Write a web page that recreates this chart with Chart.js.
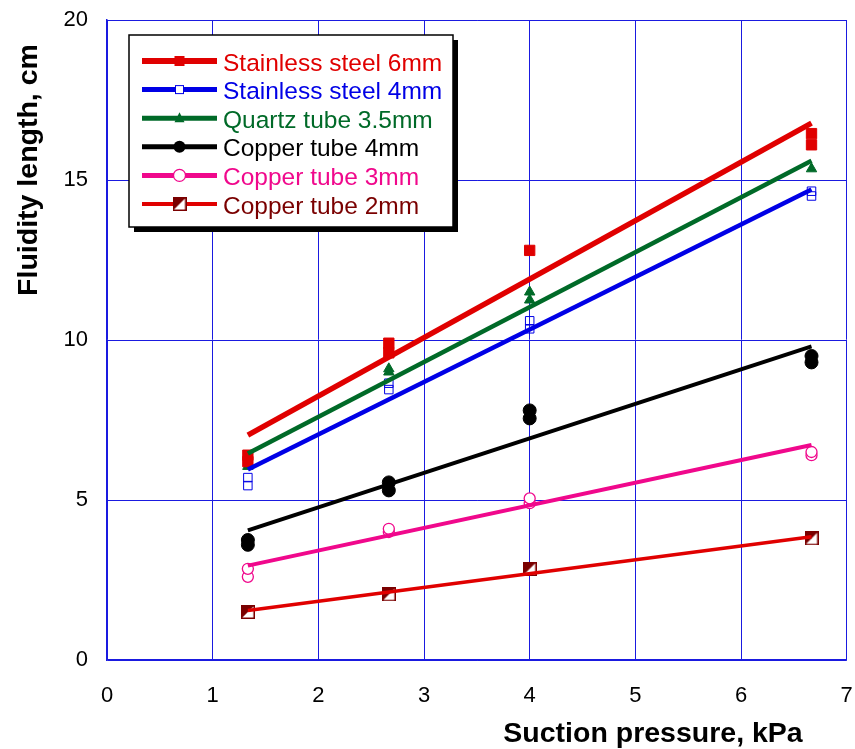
<!DOCTYPE html>
<html>
<head>
<meta charset="utf-8">
<script src="https://cdn.jsdelivr.net/npm/chart.js@4/dist/chart.umd.min.js"></script>
<style>
  html, body { margin: 0; padding: 0; background: #fff; }
  #wrap { width: 855px; height: 749px; position: relative; }
</style>
</head>
<body>
<div id="wrap"><canvas id="fluidityChart" width="855" height="749"></canvas></div>
<script>
// measured points (suction pressure, kPa -> fluidity length, cm)
const ss6X = [1.333, 1.333, 2.667, 2.667, 4.0, 6.667, 6.667];
const ss6Y = [6.2, 6.4, 9.6, 9.9, 12.8, 16.1, 16.45];
const ss4X = [1.333, 1.333, 2.667, 2.667, 4.0, 4.0, 6.667, 6.667];
const ss4Y = [5.45, 5.7, 8.45, 8.65, 10.35, 10.6, 14.5, 14.65];
const quartzX = [1.333, 2.667, 2.667, 4.0, 4.0, 6.667];
const quartzY = [6.05, 9.0, 9.1, 11.25, 11.5, 15.35];
const cu4X = [1.333, 1.333, 2.667, 2.667, 4.0, 4.0, 6.667, 6.667];
const cu4Y = [3.6, 3.75, 5.3, 5.55, 7.55, 7.8, 9.3, 9.5];
const cu3X = [1.333, 1.333, 2.667, 2.667, 4.0, 4.0, 6.667, 6.667];
const cu3Y = [2.6, 2.85, 4.0, 4.1, 4.9, 5.05, 6.4, 6.5];
const cu2X = [1.333, 2.667, 4.0, 6.667];
const cu2Y = [1.5, 2.05, 2.85, 3.8];

// fitted trend lines, end points
const fitX = [1.333, 6.667];
const ss6Fit = [7.03, 16.78];
const ss4Fit = [5.95, 14.7];
const quartzFit = [6.45, 15.6];
const cu4Fit = [4.05, 9.8];
const cu3Fit = [2.95, 6.72];
const cu2Fit = [1.55, 3.85];

const seriesNames = ['Stainless steel 6mm', 'Stainless steel 4mm', 'Quartz tube 3.5mm',
                     'Copper tube 4mm', 'Copper tube 3mm', 'Copper tube 2mm'];
const xTicks = [0, 1, 2, 3, 4, 5, 6, 7];
const yTicks = [0, 5, 10, 15, 20];

const RED = '#e00000', BLUE = '#0000e6', GREEN = '#006a28', BLACK = '#000000',
      PINK = '#f0088c', DARKRED = '#7a0000';
const FONT = '"Liberation Sans", Arial, sans-serif';

// half filled square marker for copper tube 2mm
function halfSquare(size) {
    const c = document.createElement('canvas');
    c.width = size; c.height = size;
    const g = c.getContext('2d');
    g.fillStyle = '#fff';
    g.fillRect(0, 0, size, size);
    g.fillStyle = DARKRED;
    g.beginPath();
    g.moveTo(0, 0); g.lineTo(size, 0); g.lineTo(0, size); g.closePath();
    g.fill();
    g.strokeStyle = DARKRED;
    g.lineWidth = 1.5;
    g.strokeRect(0.75, 0.75, size - 1.5, size - 1.5);
    return c;
}
const cu2Marker = halfSquare(14);

const pts = (xs, ys) => xs.map((x, i) => ({ x: x, y: ys[i] }));

function fitSet(ys, color, width) {
    return {
        data: pts(fitX, ys), showLine: true, borderColor: color, borderWidth: width,
        pointRadius: 0, borderCapStyle: 'butt'
    };
}
function markSet(xs, ys, style, radius, border, fill, bw) {
    return {
        data: pts(xs, ys), showLine: false, pointStyle: style, pointRadius: radius,
        borderColor: border, backgroundColor: fill, pointBorderWidth: bw
    };
}

const legendItems = [
    { name: seriesNames[0], line: RED, lw: 6, text: RED, mark: 'rect' },
    { name: seriesNames[1], line: BLUE, lw: 5, text: BLUE, mark: 'rectOpen' },
    { name: seriesNames[2], line: GREEN, lw: 5, text: GREEN, mark: 'tri' },
    { name: seriesNames[3], line: BLACK, lw: 5, text: BLACK, mark: 'dot' },
    { name: seriesNames[4], line: PINK, lw: 5, text: PINK, mark: 'ring' },
    { name: seriesNames[5], line: RED, lw: 4, text: DARKRED, mark: 'half' }
];

const boxLegend = {
    id: 'boxLegend',
    afterDraw(chart) {
        const ctx = chart.ctx;
        const bx = 129, by = 35, bw = 324, bh = 192;
        ctx.save();
        ctx.fillStyle = '#000';
        ctx.fillRect(bx + 5, by + 5, bw, bh);
        ctx.fillStyle = '#fff';
        ctx.fillRect(bx, by, bw, bh);
        ctx.strokeStyle = '#000';
        ctx.lineWidth = 1.5;
        ctx.strokeRect(bx, by, bw, bh);
        ctx.font = '24.5px ' + FONT;
        ctx.textBaseline = 'alphabetic';
        legendItems.forEach((it, i) => {
            const y = 61 + i * 28.6;
            ctx.strokeStyle = it.line;
            ctx.lineWidth = it.lw;
            ctx.beginPath();
            ctx.moveTo(142, y); ctx.lineTo(217, y);
            ctx.stroke();
            const mx = 179.5;
            if (it.mark === 'rect') {
                ctx.fillStyle = RED; ctx.fillRect(mx - 5, y - 5, 10, 10);
            } else if (it.mark === 'rectOpen') {
                ctx.fillStyle = '#fff'; ctx.fillRect(mx - 4, y - 4, 8, 8);
                ctx.strokeStyle = BLUE; ctx.lineWidth = 1; ctx.strokeRect(mx - 4, y - 4, 8, 8);
            } else if (it.mark === 'tri') {
                ctx.fillStyle = GREEN; ctx.beginPath();
                ctx.moveTo(mx, y - 6); ctx.lineTo(mx + 5, y + 4); ctx.lineTo(mx - 5, y + 4);
                ctx.closePath(); ctx.fill();
            } else if (it.mark === 'dot') {
                ctx.fillStyle = BLACK; ctx.beginPath(); ctx.arc(mx, y, 6, 0, Math.PI * 2); ctx.fill();
            } else if (it.mark === 'ring') {
                ctx.fillStyle = '#fff'; ctx.beginPath(); ctx.arc(mx, y, 6, 0, Math.PI * 2); ctx.fill();
                ctx.strokeStyle = PINK; ctx.lineWidth = 1.3; ctx.stroke();
            } else {
                ctx.drawImage(cu2Marker, mx - 7, y - 7);
            }
            ctx.fillStyle = it.text;
            ctx.fillText(it.name, 223, y + 9.5);
        });
        ctx.restore();
    }
};

const axisTitles = {
    id: 'axisTitles',
    afterDraw(chart) {
        const ctx = chart.ctx;
        ctx.save();
        ctx.fillStyle = '#000';
        ctx.font = 'bold 28.5px ' + FONT;
        ctx.textAlign = 'center';
        ctx.textBaseline = 'alphabetic';
        ctx.fillText('Suction pressure, kPa', 653, 742);
        ctx.translate(37, 170);
        ctx.rotate(-Math.PI / 2);
        ctx.fillText('Fluidity length, cm', 0, 0);
        ctx.restore();
    }
};

const ctx = document.getElementById('fluidityChart').getContext('2d');
new Chart(ctx, {
    type: 'scatter',
    data: {
        datasets: [
            fitSet(cu2Fit, RED, 3.5),
            fitSet(cu3Fit, PINK, 4),
            fitSet(cu4Fit, BLACK, 4),
            fitSet(ss4Fit, BLUE, 4.5),
            fitSet(quartzFit, GREEN, 4.5),
            fitSet(ss6Fit, RED, 5.5),
            markSet(cu2X, cu2Y, cu2Marker, 7, DARKRED, '#fff', 1),
            markSet(cu3X, cu3Y, 'circle', 5.5, PINK, '#fff', 1.3),
            markSet(cu4X, cu4Y, 'circle', 6.5, BLACK, BLACK, 1),
            markSet(ss6X, ss6Y, 'rect', 7.3, RED, RED, 1),
            markSet(ss4X, ss4Y, 'rect', 6, BLUE, 'rgba(255,255,255,0)', 1),
            markSet(quartzX, quartzY, 'triangle', 6, GREEN, GREEN, 1)
        ]
    },
    options: {
        responsive: false,
        animation: false,
        layout: { padding: { top: 20, right: 7, left: 0, bottom: 0 } },
        plugins: { legend: { display: false }, tooltip: { enabled: false } },
        scales: {
            x: {
                type: 'linear', min: 0, max: 7,
                afterFit(scale) {
                    scale.height = 89;
                    scale.paddingLeft = 0; scale.paddingRight = 0;
                },
                afterBuildTicks(scale) { scale.ticks = xTicks.map(v => ({ value: v })); },
                grid: { color: '#1a1ae0', lineWidth: 1, drawTicks: false },
                border: { color: '#1a1ae0', width: 1.5 },
                ticks: {
                    color: '#000', padding: 23,
                    font: { family: FONT, size: 22 }
                }
            },
            y: {
                type: 'linear', min: 0, max: 20,
                afterFit(scale) {
                    scale.width = 107;
                    scale.paddingTop = 0; scale.paddingBottom = 0;
                },
                afterBuildTicks(scale) { scale.ticks = yTicks.map(v => ({ value: v })); },
                grid: { color: '#1a1ae0', lineWidth: 1, drawTicks: false },
                border: { color: '#1a1ae0', width: 1.5 },
                ticks: {
                    color: '#000', padding: 19,
                    font: { family: FONT, size: 22 }
                }
            }
        }
    },
    plugins: [boxLegend, axisTitles]
});
</script>
</body>
</html>
